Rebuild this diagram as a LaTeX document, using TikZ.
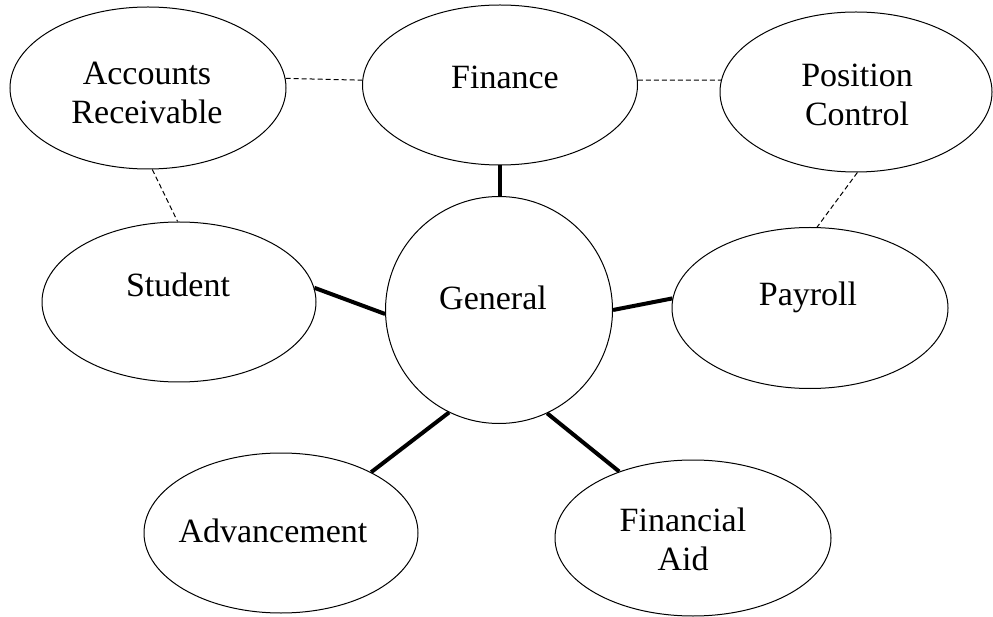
\documentclass[tikz,border=0pt]{standalone}
\usepackage{fontspec}
\setmainfont{Liberation Serif}
\usetikzlibrary{shapes.geometric}
\tikzset{
  bubble/.style={draw, ellipse, line width=1pt, inner sep=0pt, minimum width=#1},
  bubble/.default={276pt},
  lbl/.style={font=\fontsize{34}{39}\selectfont, align=center, inner sep=0pt},
  weak/.style={draw, line width=1pt, dash pattern=on 5pt off 3pt},
  strong/.style={draw, line width=4pt}
}
\begin{document}
\begin{tikzpicture}[x=1pt,y=-1pt]
\path[use as bounding box] (0,0) rectangle (993,617);
% bubbles
\node[bubble, minimum height=162pt] (ar) at (148,88) {};
\node[bubble=275pt, minimum height=160pt] (fin) at (500,85) {};
\node[bubble=272pt, minimum height=160pt] (pc) at (856,92) {};
\node[bubble=274pt, minimum height=160pt] (stu) at (179,302) {};
\node[draw, circle, line width=1pt, inner sep=0pt, minimum size=227pt] (gen) at (499,310) {};
\node[bubble, minimum height=161pt] (pay) at (810,308) {};
\node[bubble=274pt, minimum height=160pt] (adv) at (281,533) {};
\node[bubble, minimum height=156pt] (fa) at (693,538) {};
% labels
\node[lbl] (tar) at (147,92.5) {Accounts\\Receivable};
\node[lbl] (tfin) at (505,77) {Finance};
\node[lbl] (tpc) at (857,95) {Position\\Control};
\node[lbl] (tstu) at (178,285) {Student};
\node[lbl] (tgen) at (493,298) {General};
\node[lbl] (tpay) at (808,297) {Payroll};
\node[lbl] (tadv) at (273,531) {Advancement};
\node[lbl] (tfa) at (683,539) {Financial\\Aid};
% dashed links
\draw[weak] (ar.4) -- (fin.178);
\draw[weak] (fin.2) -- (pc.175);
\draw[weak] (ar.-87) -- (stu.91);
\draw[weak] (pc.-89) -- (pay.85);
% solid links
\draw[strong] (fin.south) -- (fin.south |- gen.north);
\draw[strong] (stu.6) -- (gen.182);
\draw[strong] (gen.0) -- (pay.176);
\draw[strong] (gen.244) -- (adv.34);
\draw[strong] (gen.-65) -- (fa.138);
\end{tikzpicture}
\end{document}
